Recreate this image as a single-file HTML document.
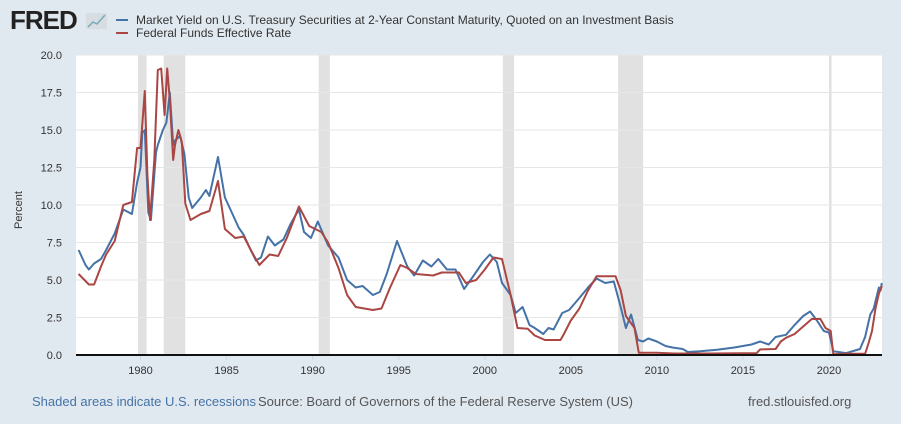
<!DOCTYPE html>
<html><head><meta charset="utf-8"><style>
body{margin:0;width:901px;height:424px;background:#fff;font-family:"Liberation Sans",sans-serif;overflow:hidden}
#wrap{position:absolute;left:0;top:0;width:901px;height:424px;background:#e1e9f0}
</style></head><body>
<div id="wrap">
<svg id="svg" width="901" height="424">
<text x="10" y="29" font-size="26" font-weight="bold" fill="#222" letter-spacing="-1">FRED</text>
<g><rect x="86" y="13" width="21" height="16" fill="#d8dde2"/><polyline points="88,27 93,22 97,24 105,15" fill="none" stroke="#7ab" stroke-width="1.5"/></g>
<line x1="116" y1="20" x2="128" y2="20" stroke="#4572a7" stroke-width="2"/>
<text x="136" y="24" font-size="12" fill="#333">Market Yield on U.S. Treasury Securities at 2-Year Constant Maturity, Quoted on an Investment Basis</text>
<line x1="116" y1="33" x2="128" y2="33" stroke="#aa4643" stroke-width="2"/>
<text x="136" y="37" font-size="12" fill="#333">Federal Funds Effective Rate</text>
<rect x="76" y="55" width="806" height="300" fill="#fff"/>
<g id="rec"></g><g id="grid"></g><g id="lines"></g><g id="axes"></g>
<text transform="translate(22,210) rotate(-90)" text-anchor="middle" font-size="11" fill="#333">Percent</text>
<text x="32" y="406" font-size="13" fill="#4572a7">Shaded areas indicate U.S. recessions</text>
<text x="258" y="406" font-size="13" fill="#555">Source: Board of Governors of the Federal Reserve System (US)</text>
<text x="748" y="406" font-size="13" fill="#555">fred.stlouisfed.org</text>
</svg></div>
<script>
const yTicks=[0,2.5,5,7.5,10,12.5,15,17.5,20];
const xTicks=[1980,1985,1990,1995,2000,2005,2010,2015,2020];
const recessions=[[1979.85,1980.35],[1981.35,1982.6],[1990.35,1991.0],[2001.05,2001.7],[2007.75,2009.2],[2020.0,2020.15]];
const ffDates=[1976.4,1977.0,1977.3,1977.7,1978.0,1978.5,1979.0,1979.5,1979.8,1980.0,1980.25,1980.4,1980.55,1980.8,1981.0,1981.2,1981.4,1981.55,1981.7,1981.9,1982.0,1982.2,1982.4,1982.6,1982.9,1983.5,1984.0,1984.5,1984.9,1985.5,1986.0,1986.5,1986.9,1987.5,1988.0,1988.5,1989.2,1989.8,1990.5,1990.9,1991.5,1992.0,1992.5,1993.5,1994.0,1994.5,1995.1,1995.5,1996.0,1997.0,1997.5,1998.5,1998.9,1999.5,2000.0,2000.5,2001.0,2001.5,2001.9,2002.5,2002.9,2003.5,2004.4,2004.6,2005.0,2005.5,2006.0,2006.5,2007.6,2007.9,2008.2,2008.7,2008.95,2010,2011,2013,2015.8,2016.0,2016.9,2017.2,2017.5,2018.0,2018.5,2019.0,2019.5,2019.8,2020.1,2020.25,2021.0,2022.1,2022.3,2022.5,2022.7,2022.9,2023.07];
const ffValues=[5.4,4.7,4.7,5.9,6.7,7.6,10.0,10.2,13.8,13.8,17.6,12,9.0,13,19.0,19.1,16,19.1,17,13,14,15,14.2,10.1,9.0,9.4,9.6,11.6,8.4,7.8,7.9,6.8,6.0,6.7,6.6,7.8,9.9,8.6,8.2,7.5,5.8,4.0,3.2,3.0,3.1,4.5,6.0,5.8,5.4,5.3,5.5,5.5,4.8,5.0,5.7,6.5,6.4,4.0,1.8,1.75,1.3,1.0,1.0,1.4,2.3,3.1,4.3,5.25,5.25,4.3,2.6,1.8,0.15,0.15,0.1,0.1,0.13,0.37,0.4,0.9,1.15,1.4,1.9,2.4,2.4,1.8,1.6,0.05,0.08,0.08,0.8,1.6,3.1,4.1,4.6];
const tyDates=[1976.4,1976.8,1977.0,1977.3,1977.7,1978.0,1978.5,1979.0,1979.5,1979.8,1980.0,1980.1,1980.25,1980.45,1980.6,1980.9,1981.0,1981.3,1981.5,1981.7,1981.9,1982.0,1982.3,1982.55,1982.8,1983.0,1983.5,1983.8,1984.0,1984.5,1984.9,1985.3,1985.7,1986.0,1986.4,1986.7,1987.0,1987.4,1987.8,1988.3,1988.7,1989.2,1989.5,1989.9,1990.3,1990.9,1991.5,1992.0,1992.5,1992.9,1993.5,1993.9,1994.3,1994.9,1995.5,1995.9,1996.4,1996.9,1997.3,1997.8,1998.3,1998.8,1999.3,1999.9,2000.3,2000.7,2001.0,2001.5,2001.8,2002.2,2002.6,2002.9,2003.4,2003.7,2004.0,2004.5,2004.9,2005.5,2006.0,2006.5,2007.0,2007.5,2007.9,2008.2,2008.5,2008.9,2009.2,2009.5,2010.0,2010.5,2010.9,2011.5,2011.8,2012.5,2013.5,2014.5,2015.0,2015.5,2016.0,2016.5,2016.9,2017.5,2018.0,2018.5,2018.9,2019.3,2019.7,2020.0,2020.25,2021.0,2021.8,2022.1,2022.4,2022.6,2022.9,2023.0,2023.07];
const tyValues=[7.0,6.0,5.7,6.1,6.4,7.0,8.1,9.7,9.4,11.5,12.5,14.8,15.0,9.5,9.0,13.5,14.0,15.0,15.5,17.5,14.0,14.3,14.6,13.4,10.5,9.8,10.5,11.0,10.6,13.2,10.5,9.5,8.5,8.0,7.0,6.3,6.5,7.9,7.3,7.7,8.7,9.7,8.2,7.8,8.9,7.3,6.5,5.0,4.5,4.6,4.0,4.2,5.4,7.6,5.9,5.3,6.3,5.9,6.4,5.7,5.7,4.4,5.2,6.2,6.7,6.2,4.8,4.0,2.8,3.2,2.0,1.8,1.4,1.8,1.7,2.8,3.0,3.8,4.5,5.1,4.8,4.9,3.2,1.8,2.7,1.0,0.9,1.1,0.9,0.6,0.5,0.4,0.2,0.25,0.35,0.5,0.6,0.7,0.9,0.7,1.2,1.35,2.0,2.6,2.9,2.3,1.6,1.5,0.25,0.13,0.4,1.2,2.7,3.1,4.5,4.3,4.8];
const X0=76,X1=882,Y0=355,Y1=55,T0=1976.25,T1=2023.08;
const sx=t=>X0+(t-T0)/(T1-T0)*(X1-X0);
const sy=v=>Y0-(v-0)/(20-0)*(Y0-Y1);
const NS='http://www.w3.org/2000/svg';
function mk(tag,attrs,parent){const e=document.createElementNS(NS,tag);for(const k in attrs)e.setAttribute(k,attrs[k]);document.getElementById(parent).appendChild(e);return e;}
recessions.forEach(r=>{const e=mk('rect',{x:sx(r[0]),y:Y1,width:sx(r[1])-sx(r[0]),height:Y0-Y1,fill:'#e1e1e1'},'rec');

});
yTicks.forEach(v=>{if(v>0){const l=mk('line',{x1:X0,x2:X1,y1:sy(v),y2:sy(v),stroke:'#e6e6e6'},'grid');

}
const t=mk('text',{x:X0-14,y:sy(v)+4,'text-anchor':'end','font-size':11,fill:'#333'},'axes');t.textContent=v.toFixed(1);

});
xTicks.forEach(y=>{const l=mk('line',{x1:sx(y),x2:sx(y),y1:Y0,y2:Y0+5,stroke:'#ccd6eb'},'axes');


const t=mk('text',{x:sx(y),y:Y0+19,'text-anchor':'middle','font-size':11,fill:'#333'},'axes');t.textContent=y;

});
const ax=mk('line',{x1:X0,x2:X1,y1:Y0,y2:Y0,stroke:'#111','stroke-width':2},'axes');


function series(d,v,c,name){const p=mk('polyline',{points:d.map((t,i)=>sx(t).toFixed(1)+','+sy(v[i]).toFixed(1)).join(' '),fill:'none',stroke:c,'stroke-width':2,'stroke-linejoin':'round'},'lines');

}
series(tyDates,tyValues,'#4572a7','treasury-2y-line');
series(ffDates,ffValues,'#aa4643','fed-funds-line');
</script></body></html>
